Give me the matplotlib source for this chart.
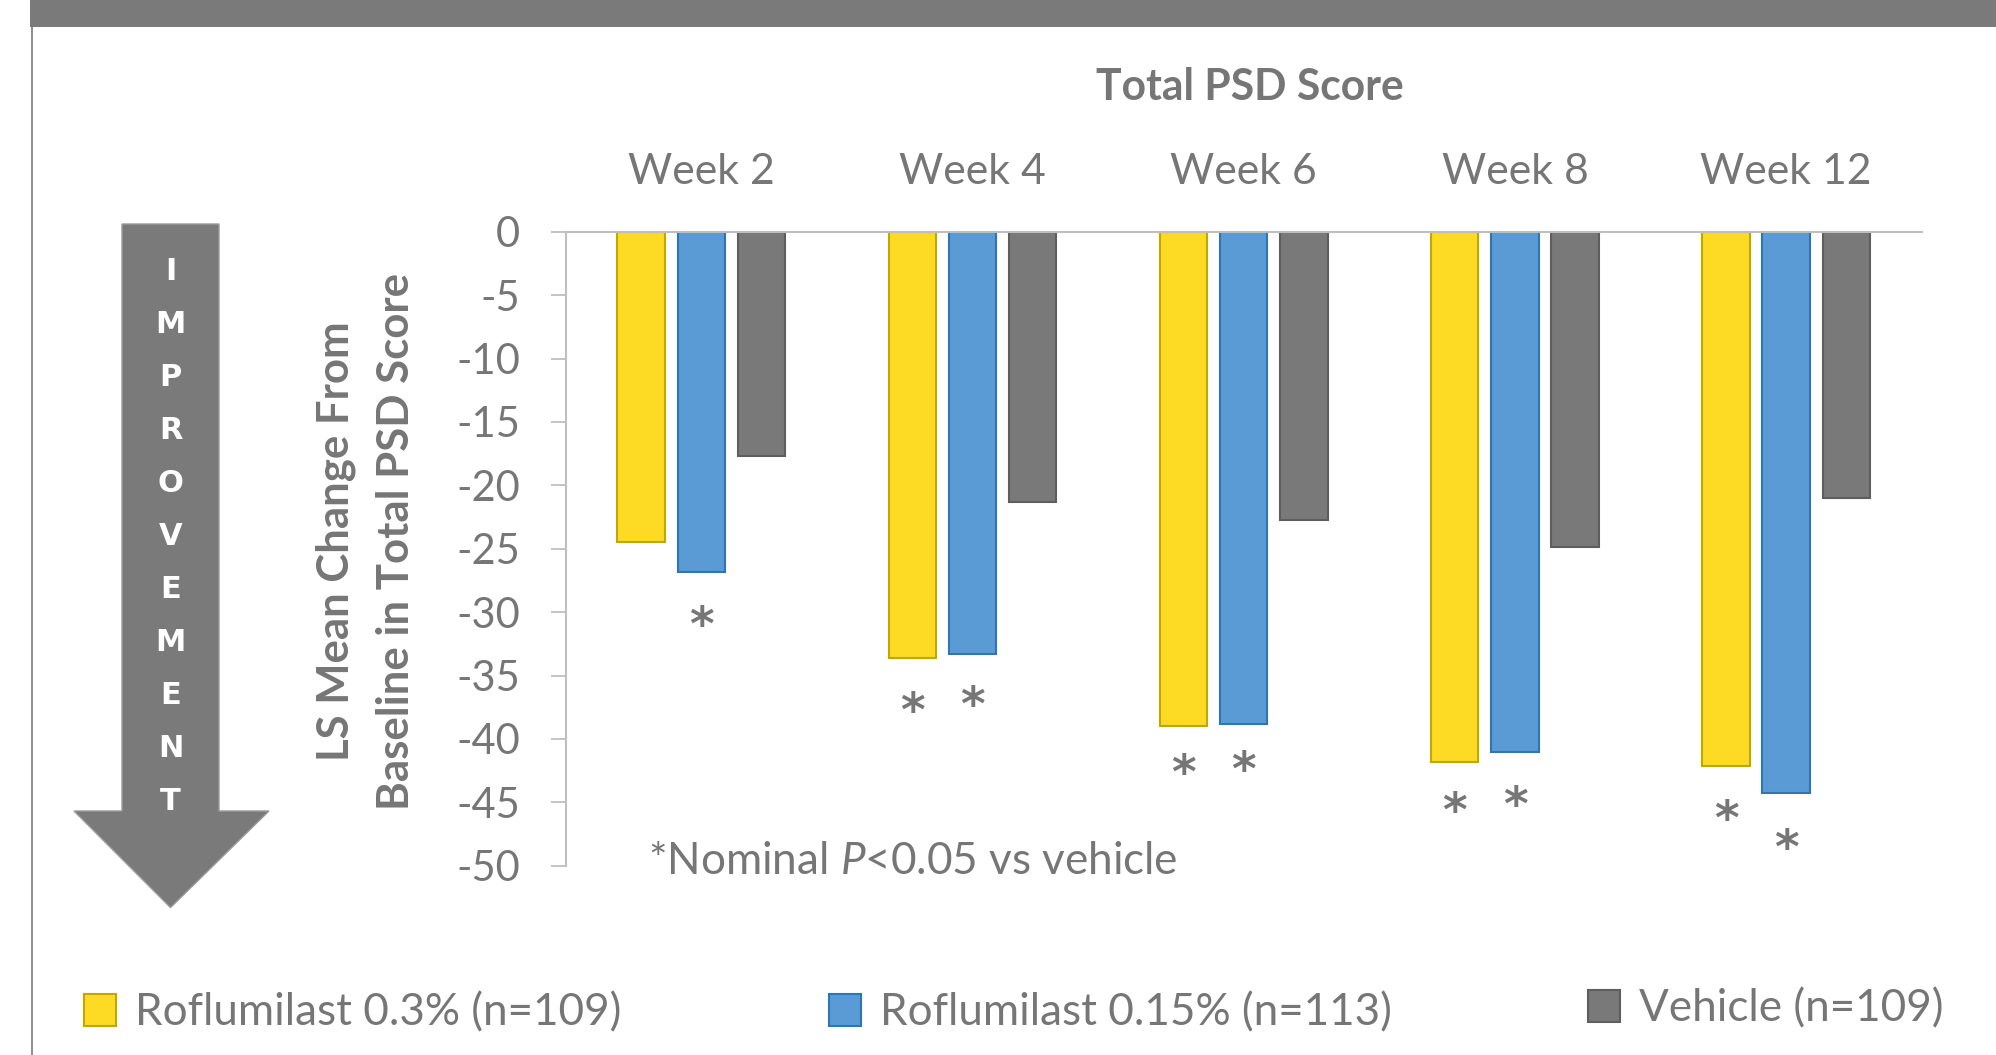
import matplotlib
matplotlib.use("Agg")
import matplotlib.pyplot as plt
from matplotlib.patches import Polygon, Rectangle
from matplotlib.lines import Line2D
import numpy as np

plt.rcParams['font.family'] = ['Lato', 'DejaVu Sans']
plt.rcParams['mathtext.fontset'] = 'custom'
plt.rcParams['mathtext.rm'] = 'Lato'
plt.rcParams['mathtext.it'] = 'Lato:italic'

# ---------------- data ----------------
weeks = ["Week 2", "Week 4", "Week 6", "Week 8", "Week 12"]
series_names = ["Roflumilast 0.3% (n=109)", "Roflumilast 0.15% (n=113)", "Vehicle (n=109)"]
roflu_03 = [-24.5, -33.6, -39.0, -41.8, -42.1]
roflu_015 = [-26.8, -33.3, -38.8, -41.0, -44.3]
vehicle = [-17.7, -21.3, -22.7, -24.9, -21.0]
# significance asterisks (series index, week index, y position of asterisk)
sig_series = [1, 0, 1, 0, 1, 0, 1, 0, 1]
sig_week = [0, 1, 1, 2, 2, 3, 3, 4, 4]
sig_y = [-30.4, -37.2, -36.7, -42.1, -41.8, -45.1, -44.6, -45.7, -48.0]
yticks = [0, -5, -10, -15, -20, -25, -30, -35, -40, -45, -50]
arrow_word = "IMPROVEMENT"

fills = ["#FDDA24", "#5B9BD5", "#797979"]
edges = ["#C2A700", "#2E75B6", "#5E5E5E"]
txt = "#767676"
axc = "#BFBFBF"

W, H = 1996, 1055
fig = plt.figure(figsize=(W / 100, H / 100), dpi=100)

def fx(px):
    return px / W

def fy(py):
    return 1 - py / H

# ---------------- decorations ----------------
fig.patches.append(Rectangle((fx(30), fy(26.7)), 1 - fx(30), 26.7 / H,
                             transform=fig.transFigure, facecolor="#7A7A7A",
                             edgecolor="none", zorder=0))
fig.lines.append(Line2D([fx(31.7), fx(31.7)], [fy(26.7), 0], transform=fig.transFigure,
                        color="#7A7A7A", lw=1.2))

# big arrow
arr_pts = [(122, 224), (219, 224), (219, 811), (269, 811), (170.5, 907.6),
           (74, 811), (122, 811)]
fig.patches.append(Polygon([(fx(x), fy(y)) for x, y in arr_pts], closed=True,
                           transform=fig.transFigure, facecolor="#7A7A7A",
                           edgecolor="#9A9A9A", lw=1.0, zorder=1))
y0, y1 = 271, 802
for i, ch in enumerate(arrow_word):
    yy = y0 + (y1 - y0) * i / (len(arrow_word) - 1)
    fig.text(fx(170.5), fy(yy), ch, color="white", fontsize=22, fontweight="bold",
             family=["DejaVu Sans"], ha="center", va="center", zorder=3)

# ---------------- axes ----------------
ax = fig.add_axes([fx(565.7), fy(865.7), fx(1921.8) - fx(565.7), (865.7 - 231.7) / H])
x = np.arange(len(weeks))
off = 0.222
bw = 0.175
all_series = [roflu_03, roflu_015, vehicle]
bars = []
for k, vals in enumerate(all_series):
    b = ax.bar(x + (k - 1) * off, vals, width=bw, color=fills[k], edgecolor=edges[k],
               linewidth=1.5, label=series_names[k], zorder=2)
    bars.append(b)

for s, w, yv in zip(sig_series, sig_week, sig_y):
    ax.annotate("*", xy=(x[w] + (s - 1) * off, yv), xytext=(0, -16.5),
                textcoords="offset points", ha="center", va="baseline",
                fontsize=34, fontweight="bold", color=txt, family=["DejaVu Sans"],
                annotation_clip=False)

ax.set_xlim(-0.5, len(weeks) - 0.5)
ax.set_ylim(-50, 0)
ax.set_yticks(yticks)
ax.set_yticklabels([str(v) for v in yticks])
ax.xaxis.tick_top()
ax.set_xticks(x)
ax.set_xticklabels(weeks)
ax.tick_params(axis="x", length=0, pad=29, labelsize=30.8, labelcolor=txt)
ax.tick_params(axis="y", length=11, width=1.3, color=axc, pad=22, labelsize=30,
               labelcolor=txt, direction="out")
for sp in ["right", "bottom"]:
    ax.spines[sp].set_visible(False)
for sp in ["left", "top"]:
    ax.spines[sp].set_color(axc)
    ax.spines[sp].set_linewidth(1.5)
ax.spines["left"].set_zorder(1)

# titles / labels
fig.text(fx(1250), fy(86.6), "Total PSD Score", ha="center", va="center",
         fontsize=30.7, fontweight="bold", color=txt)
fig.text(fx(366), fy(541), "LS Mean Change From\nBaseline in Total PSD Score",
         rotation=90, ha="center", va="center", multialignment="center",
         fontsize=31.5, fontweight="bold", color=txt, linespacing=1.6)
fig.text(fx(647.8), fy(874), r"*Nominal $P$<0.05 vs vehicle", ha="left",
         va="baseline", fontsize=31.7, color=txt)

# legends
leg_pos = [(84, 1012.9), (829, 1012.9), (1588, 1008.5)]
for k in range(3):
    fig.legend(handles=[bars[k]], labels=[series_names[k]], loc="center left",
               bbox_to_anchor=(fx(leg_pos[k][0]), fy(leg_pos[k][1])),
               frameon=False, fontsize=31.7, handlelength=0.727, handleheight=0.727,
               handletextpad=0.43, borderpad=0, borderaxespad=0, labelcolor=txt)

fig.savefig("out.png", dpi=100, facecolor="white")
